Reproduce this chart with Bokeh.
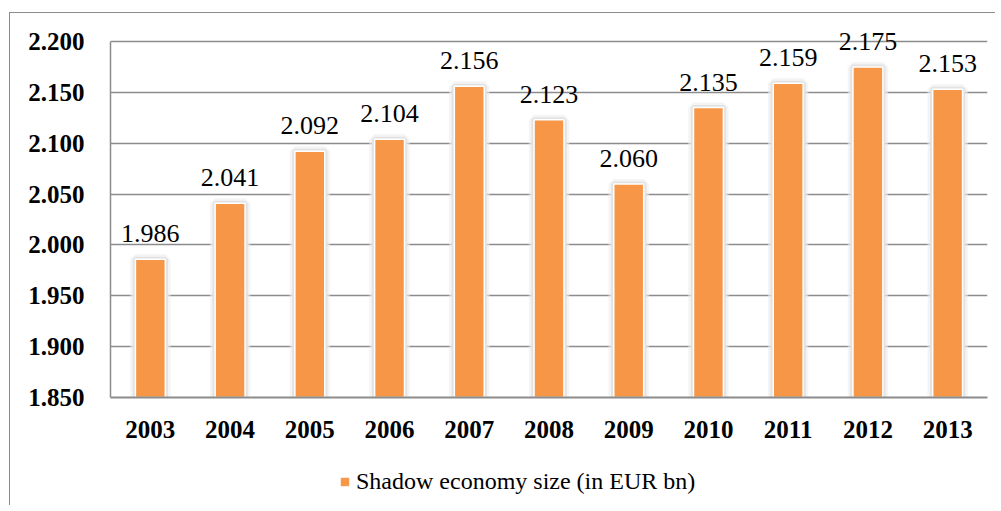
from bokeh.plotting import figure
from bokeh.layouts import column
from bokeh.models import (ColumnDataSource, Legend, LegendItem, FixedTicker, CustomJSTickFormatter,
                          InlineStyleSheet, Range1d, LabelSet)
from bokeh.embed import file_html
from bokeh.resources import INLINE

years = ["2003", "2004", "2005", "2006", "2007", "2008", "2009", "2010", "2011", "2012", "2013"]
sizes = [1.986, 2.041, 2.092, 2.104, 2.156, 2.123, 2.060, 2.135, 2.159, 2.175, 2.153]
labels = ["1.986", "2.041", "2.092", "2.104", "2.156", "2.123", "2.060", "2.135", "2.159", "2.175", "2.153"]
y_ticks = [1.85, 1.90, 1.95, 2.00, 2.05, 2.10, 2.15, 2.20]
series_name = "Shadow economy size (in EUR bn)"

FONT = "Liberation Serif"
ORANGE = "#F79646"

src = ColumnDataSource(dict(x=years, top=sizes, lab=labels))

border_css = InlineStyleSheet(css="""
:host { position: relative; }
:host::after {
  content: "";
  position: absolute;
  left: 9px; top: 12px; right: 0px; bottom: 0px;
  border-left: 1.5px solid #8c8c8c;
  border-top: 1.5px solid #8c8c8c;
  pointer-events: none;
  z-index: 10;
}
""")

W = 995
# plot area: 2.200 at y=41, 1.850 at y=397 -> 356 px for 0.35; headroom above for labels
px_per_unit = 356 / 0.35
top_room = 36
y_end = 2.20 + top_room / px_per_unit

p = figure(x_range=years, y_range=(1.85, y_end), width=W, height=445,
           output_backend="svg", toolbar_location=None,
           min_border_left=110, min_border_top=41 - top_room, min_border_right=8, min_border_bottom=48)
p.background_fill_color = "white"
p.border_fill_color = "white"
p.outline_line_color = None

# grid
p.xgrid.grid_line_color = None
p.ygrid.grid_line_color = "#8c8c8c"
p.ygrid.grid_line_width = 1.5
p.ygrid.ticker = FixedTicker(ticks=y_ticks)

# bar shadow/glow
p.vbar(x="x", top="top", bottom=1.85, width=0.38, source=src,
       fill_color="#ececec", line_color="#ececec", line_width=10, line_alpha=0.6)
p.vbar(x="x", top="top", bottom=1.85, width=0.38, source=src,
       fill_color="#e2e2e2", line_color="#e2e2e2", line_width=5)
bars = p.vbar(x="x", top="top", bottom=1.85, width=0.375, source=src,
              fill_color=ORANGE, line_color="white", line_width=1.5)

# data labels
data_labels = LabelSet(x="x", y="top", text="lab", source=src, text_align="center",
                       text_baseline="alphabetic", y_offset=17,
                       text_font=FONT, text_font_style="normal",
                       text_font_size="26px", text_color="black")
p.add_layout(data_labels)

# axes
p.yaxis.ticker = FixedTicker(ticks=y_ticks)
p.yaxis.bounds = (1.85, 2.20)
p.yaxis.formatter = CustomJSTickFormatter(code="return tick.toFixed(3);")
p.yaxis.major_label_text_font = FONT
p.yaxis.major_label_text_font_style = "bold"
p.yaxis.major_label_text_font_size = "25px"
p.yaxis.major_label_text_color = "black"
p.yaxis.major_tick_line_color = None
p.yaxis.minor_tick_line_color = None
p.yaxis.axis_line_color = "#8c8c8c"
p.yaxis.axis_line_width = 1.5
p.yaxis.major_label_standoff = 20

p.xaxis.major_label_text_font = FONT
p.xaxis.major_label_text_font_style = "bold"
p.xaxis.major_label_text_font_size = "25px"
p.xaxis.major_label_text_color = "black"
p.xaxis.major_tick_line_color = None
p.xaxis.axis_line_color = "#8c8c8c"
p.xaxis.axis_line_width = 2
p.xaxis.major_label_standoff = 17

# legend strip
p2 = figure(x_range=Range1d(0, 1), y_range=Range1d(0, 1), width=W, height=60,
            output_backend="svg", toolbar_location=None,
            min_border=0, x_axis_type=None, y_axis_type=None)
p2.grid.visible = False
p2.outline_line_color = None
p2.background_fill_color = "white"
p2.border_fill_color = "white"
leg_src = ColumnDataSource(dict(x=[5.0], top=[5.0]))
leg_bar = p2.vbar(x="x", top="top", bottom=4.0, width=0.1, source=leg_src,
                  fill_color=ORANGE, line_color="white", line_width=0.5)
legend = Legend(items=[LegendItem(label=series_name, renderers=[leg_bar])],
                location=(229, 10), orientation="horizontal",
                label_text_font=FONT, label_text_font_size="24px", label_text_color="black",
                glyph_width=11, glyph_height=11, label_standoff=6,
                padding=0, margin=0, border_line_color=None, background_fill_alpha=0)
p2.add_layout(legend, "center")

layout = column(p, p2, spacing=0, stylesheets=[border_css])

open("out.html", "w").write(file_html(layout, INLINE))
